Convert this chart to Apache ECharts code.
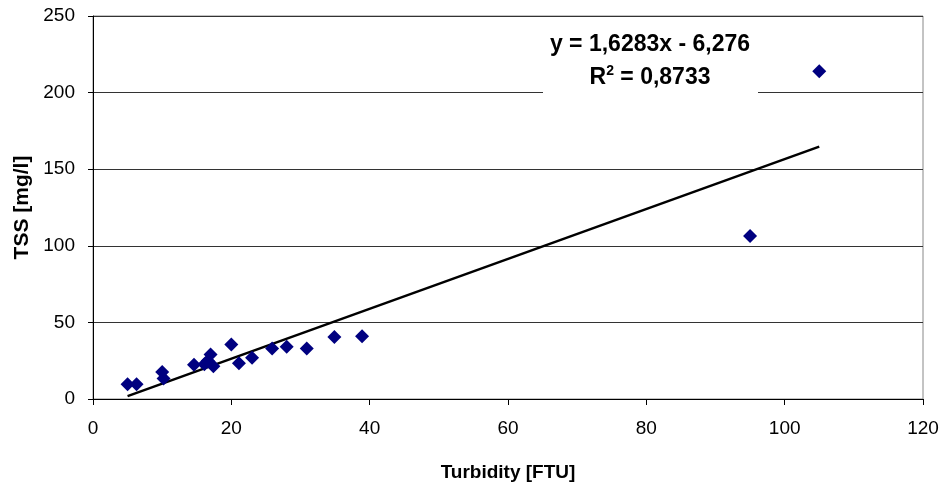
<!DOCTYPE html>
<html><head><meta charset="utf-8">
<script src="https://cdn.jsdelivr.net/npm/echarts@6/dist/echarts.min.js"></script>
<style>html,body{margin:0;padding:0;background:#fff}#c{width:944px;height:487px}</style>
</head><body><div id="c"></div>
<script>
const turbidity = [5, 6.3, 10, 10.2, 14.6, 16.1, 16.6, 17.0, 17.4, 20.0, 21.1, 23.0, 25.9, 28.0, 30.9, 34.9, 38.9, 95, 105];
const tss       = [9.7, 9.7, 17.7, 13.4, 22.3, 22.7, 25.0, 29.0, 21.3, 35.6, 23.3, 27.0, 33.0, 34.1, 33.0, 40.4, 41.0, 106.4, 214];
const slope = 1.6283, intercept = -6.276;
const eqLine1 = 'y = 1,6283x - 6,276';
const eqLine2 = 'R{sup|2} = 0,8733';
const xTitle = 'Turbidity [FTU]', yTitle = 'TSS [mg/l]';

const pts = turbidity.map((x, i) => [x, tss[i]]);
const xMin = Math.min(...turbidity), xMax = Math.max(...turbidity);
const trend = [[xMin, slope * xMin + intercept], [xMax, slope * xMax + intercept]];
const font = 'Liberation Sans, Arial, sans-serif';

const chart = echarts.init(document.getElementById('c'));
chart.setOption({
  animation: false,
  grid: { left: 93, right: 21, top: 16, bottom: 85, show: true, borderColor: '#888', borderWidth: 1 },
  xAxis: {
    type: 'value', min: 0, max: 120, interval: 20,
    name: xTitle, nameLocation: 'middle', nameGap: 64,
    nameTextStyle: { fontFamily: font, fontWeight: 'bold', fontSize: 19, color: '#000' },
    axisLine: { show: true, onZero: false, lineStyle: { color: '#000' } },
    axisTick: { show: true, length: 6, lineStyle: { color: '#000' } },
    axisLabel: { fontFamily: font, fontSize: 19, color: '#000', margin: 20 },
    splitLine: { show: false }
  },
  yAxis: {
    type: 'value', min: 0, max: 250, interval: 50,
    name: yTitle, nameLocation: 'middle', nameGap: 50,
    nameTextStyle: { fontFamily: font, fontWeight: 'bold', fontSize: 21, color: '#000' },
    axisLine: { show: true, lineStyle: { color: '#000' } },
    axisTick: { show: true, length: 5, lineStyle: { color: '#000' } },
    axisLabel: { fontFamily: font, fontSize: 19, color: '#000', margin: 18 },
    splitLine: { show: true, lineStyle: { color: '#333', width: 1 } }
  },
  series: [
    {
      type: 'line', data: trend, showSymbol: false, symbol: 'none',
      lineStyle: { color: '#000', width: 2.5 }, z: 2
    },
    {
      type: 'scatter', data: pts, symbol: 'diamond', symbolSize: 14,
      itemStyle: { color: '#000080', opacity: 1 }, z: 3
    }
  ],
  graphic: [
    { type: 'rect', shape: { x: 543, y: 28, width: 215, height: 72 }, style: { fill: '#fff' }, z: 10 },
    {
      type: 'text', x: 650, y: 45, z: 11,
      style: { text: eqLine1, font: 'bold 23px ' + font, fill: '#000', align: 'center', verticalAlign: 'middle' }
    },
    {
      type: 'text', x: 650, y: 78, z: 11,
      style: {
        text: eqLine2, font: 'bold 23px ' + font, fill: '#000', align: 'center', verticalAlign: 'middle',
        rich: { sup: { font: 'bold 14px ' + font, fill: '#000', verticalAlign: 'bottom', padding: [0, 0, 13, 0] } }
      }
    }
  ]
});
</script></body></html>
